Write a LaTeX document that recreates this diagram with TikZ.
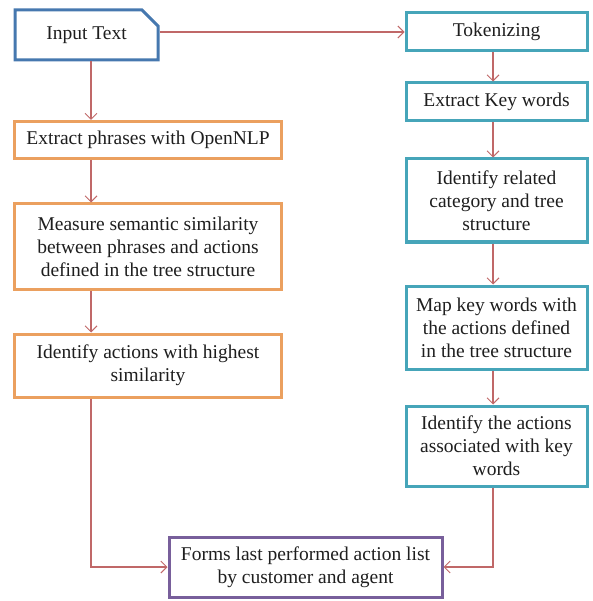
\documentclass[tikz,border=0pt]{standalone}
\usepackage{fontspec}
\setmainfont{Liberation Serif}
\usetikzlibrary{arrows.meta,shapes.misc}
\definecolor{linec}{RGB}{192,104,104}
\definecolor{bluec}{RGB}{70,120,175}
\definecolor{tealc}{RGB}{70,165,185}
\definecolor{orangec}{RGB}{235,160,95}
\definecolor{purplec}{RGB}{120,95,155}
\definecolor{txtc}{RGB}{30,30,30}
\tikzset{
  box/.style={rectangle, line width=3pt, fill=white, inner sep=0pt, align=center,
    text=txtc, font=\fontsize{19.5}{23}\selectfont},
  obox/.style={box, draw=orangec},
  tbox/.style={box, draw=tealc},
  arr/.style={draw=linec, line width=1.1pt, -{Straight Barb[length=6pt,width=12pt,line width=1pt]}},
}
\begin{document}
\begin{tikzpicture}[x=1pt,y=-1pt]
\useasboundingbox (0,0) rectangle (592,601);
% left column
\node[box, draw=bluec, chamfered rectangle, chamfered rectangle corners=north east,
  chamfered rectangle xsep=8pt, chamfered rectangle ysep=8pt,
  minimum width=143pt, minimum height=50pt] (inp) at (86.5,35) {Input Text};
\node[obox, minimum width=267pt, minimum height=37pt] (ph) at (148,140) {Extract phrases with OpenNLP};
\node[obox, minimum width=267pt, minimum height=85pt] (meas) at (148,246.5) {Measure semantic similarity\\between phrases and actions\\defined in the tree structure};
\node[obox, minimum width=267pt, minimum height=63pt] (high) at (148,365.5) {Identify actions with highest\\similarity};
% right column
\node[tbox, minimum width=181pt, minimum height=38pt] (tok) at (496.5,32) {Tokenizing};
\node[tbox, minimum width=181pt, minimum height=38pt] (kw) at (496.5,102) {Extract Key words};
\node[tbox, minimum width=181pt, minimum height=83pt] (idr) at (496.5,200.5) {Identify related\\category and tree\\structure};
\node[tbox, minimum width=181pt, minimum height=83pt] (map) at (496.5,327.5) {Map key words with\\the actions defined\\in the tree structure};
\node[tbox, minimum width=181pt, minimum height=80pt] (ida) at (496.5,446) {Identify the actions\\associated with key\\words};
% bottom
\node[box, draw=purplec, minimum width=273pt, minimum height=60pt] (forms) at (305.5,567) {Forms last performed action list\\by customer and agent};
% connectors
\coordinate (lx) at (91,0);
\coordinate (rx) at (493,0);
\draw[arr] (tok.west -| inp.east) -- (tok.west);
\draw[arr] (inp.south -| lx) -- (ph.north -| lx);
\draw[arr] (ph.south -| lx) -- (meas.north -| lx);
\draw[arr] (meas.south -| lx) -- (high.north -| lx);
\draw[arr] (high.south -| lx) |- (forms.west);
\draw[arr] (tok.south -| rx) -- (kw.north -| rx);
\draw[arr] (kw.south -| rx) -- (idr.north -| rx);
\draw[arr] (idr.south -| rx) -- (map.north -| rx);
\draw[arr] (map.south -| rx) -- (ida.north -| rx);
\draw[arr] (ida.south -| rx) |- (forms.east);
\end{tikzpicture}
\end{document}
